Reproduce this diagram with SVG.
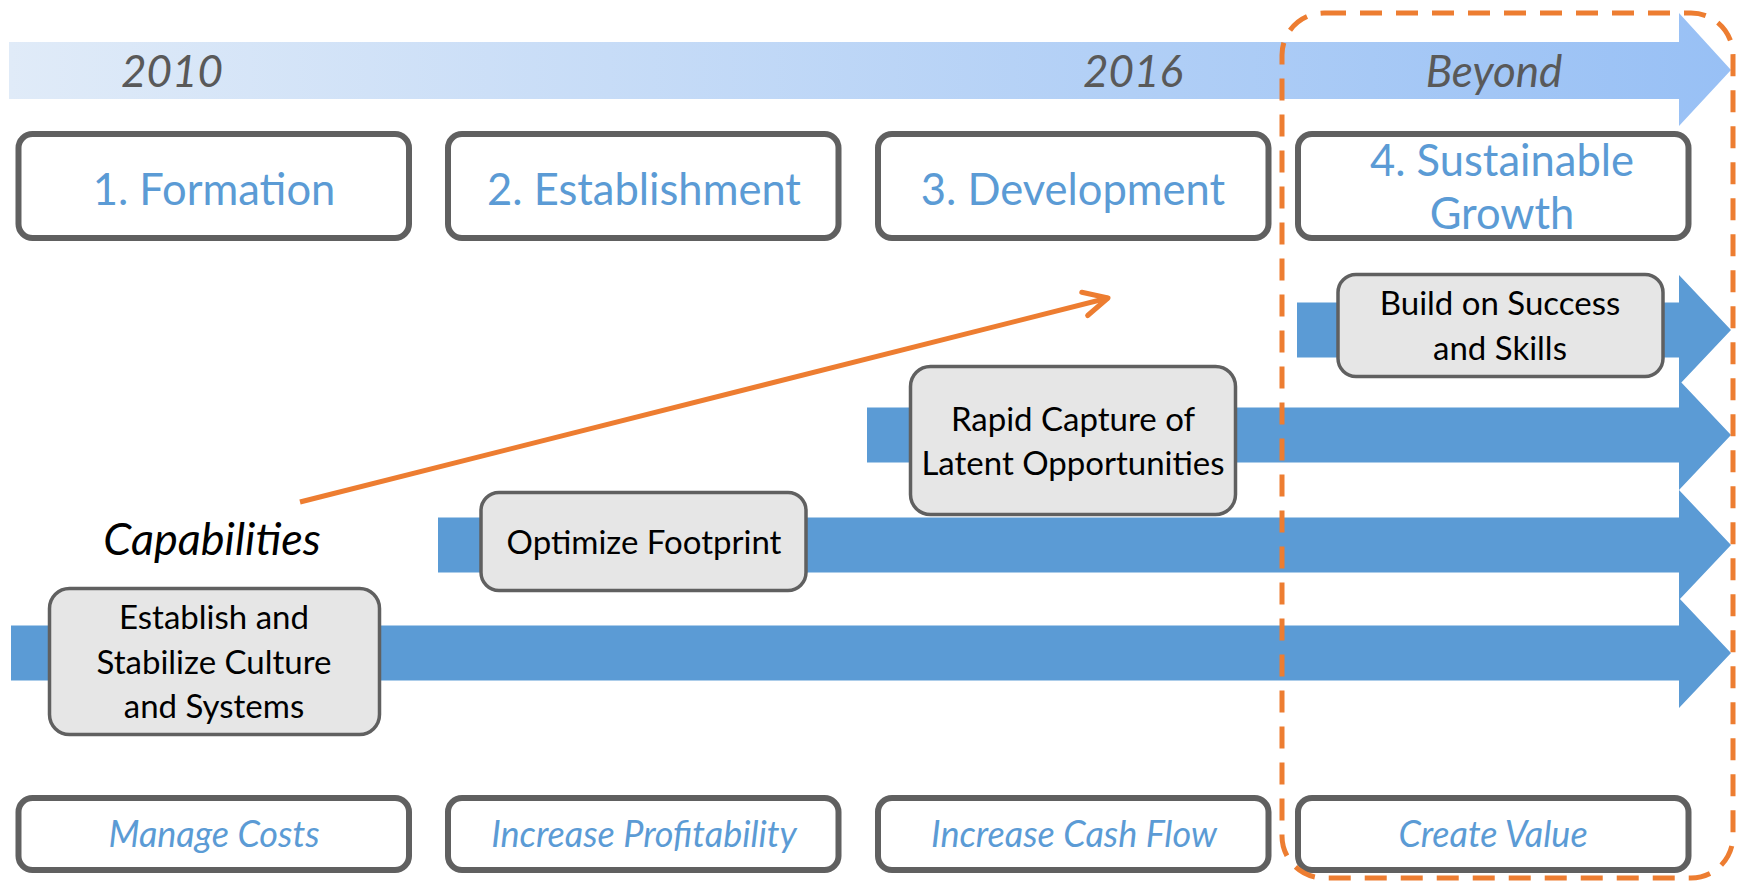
<svg xmlns="http://www.w3.org/2000/svg" width="1741" height="882" viewBox="0 0 1741 882">
<defs>
<linearGradient id="tl" x1="0" y1="0" x2="1" y2="0">
<stop offset="0" stop-color="#e0ebf8"/>
<stop offset="1" stop-color="#98c0f5"/>
</linearGradient>
<marker id="chev" markerUnits="userSpaceOnUse" markerWidth="40" markerHeight="40" viewBox="-30 -20 40 40" refX="0" refY="0" orient="auto">
<path d="M-24,-12 L0,0 L-24,12" fill="none" stroke="#ed7d31" stroke-width="5" stroke-linecap="round" stroke-linejoin="round"/>
</marker>
</defs>
<style>
.phase{fill:#ffffff;stroke:#606060;stroke-width:6}
.ptext{font-family:Lato,"Open Sans",sans-serif;font-size:43.5px;fill:#5b9bd5;text-anchor:middle}
.btext{font-family:Lato,"Open Sans",sans-serif;font-size:36px;font-style:italic;fill:#5b9bd5;text-anchor:middle}
.year{font-family:Lato,"Open Sans",sans-serif;font-size:44px;font-style:italic;fill:#595959;text-anchor:middle}
.cap{fill:#e6e6e6;stroke:#606060;stroke-width:3.5}
.ctext{font-family:Lato,"Open Sans",sans-serif;font-size:33px;fill:#000000;text-anchor:middle}
.barrow{fill:#5b9bd5}
</style>
<g id="timeline">
<polygon points="9,42 1679,42 1679,13 1731,70 1679,126 1679,99 9,99" fill="url(#tl)"/>
<text class="year" x="172" y="87">2010</text>
<text class="year" x="1133" y="87">2016</text>
<text class="year" x="1494" y="87">Beyond</text>
</g>
<g id="phase1"><rect class="phase" x="18.5" y="134" width="390.5" height="104" rx="14"/><text class="ptext" x="214" y="205">1. Formation</text></g>
<g id="phase2"><rect class="phase" x="448" y="134" width="390.5" height="104" rx="14"/><text class="ptext" x="644" y="205">2. Establishment</text></g>
<g id="phase3"><rect class="phase" x="878" y="134" width="390.5" height="104" rx="14"/><text class="ptext" x="1073" y="205">3. Development</text></g>
<g id="phase4"><rect class="phase" x="1298" y="134" width="390.5" height="104" rx="14"/><text class="ptext" x="1502" y="176">4. Sustainable</text><text class="ptext" x="1502" y="229">Growth</text></g>
<g id="arrow1"><polygon class="barrow" points="11,625.5 1679,625.5 1679,598 1731,653 1679,708 1679,680.5 11,680.5"/></g>
<g id="arrow2"><polygon class="barrow" points="438,517.5 1679,517.5 1679,490 1731,545 1679,600 1679,572.5 438,572.5"/></g>
<g id="arrow3"><polygon class="barrow" points="867,407.5 1679,407.5 1679,380 1731,435 1679,490 1679,462.5 867,462.5"/></g>
<g id="arrow4"><polygon class="barrow" points="1297,302.5 1679,302.5 1679,275 1731,330 1679,385 1679,357.5 1297,357.5"/></g>
<g id="cap1"><rect class="cap" x="49.5" y="588.5" width="330" height="146" rx="20"/><text class="ctext" x="214" y="629">Establish and</text><text class="ctext" x="214" y="674">Stabilize Culture</text><text class="ctext" x="214" y="718">and Systems</text></g>
<g id="cap2"><rect class="cap" x="481" y="492.5" width="325" height="98" rx="18"/><text class="ctext" x="644" y="554">Optimize Footprint</text></g>
<g id="cap3"><rect class="cap" x="910.5" y="366.5" width="325" height="148" rx="20"/><text class="ctext" x="1073" y="431">Rapid Capture of</text><text class="ctext" x="1073" y="475">Latent Opportunities</text></g>
<g id="cap4"><rect class="cap" x="1338" y="274.5" width="325" height="102" rx="18"/><text class="ctext" x="1500" y="315">Build on Success</text><text class="ctext" x="1500" y="360">and Skills</text></g>
<g id="capabilities"><text x="212" y="555" font-family="Lato,'Open Sans',sans-serif" font-size="45" font-style="italic" fill="#000000" text-anchor="middle">Capabilities</text></g>
<g id="goal1"><rect class="phase" x="18.5" y="798" width="390.5" height="72" rx="14"/><text class="btext" x="214" y="847">Manage Costs</text></g>
<g id="goal2"><rect class="phase" x="448" y="798" width="390.5" height="72" rx="14"/><text class="btext" x="644" y="847">Increase Profitability</text></g>
<g id="goal3"><rect class="phase" x="878" y="798" width="390.5" height="72" rx="14"/><text class="btext" x="1074" y="847">Increase Cash Flow</text></g>
<g id="goal4"><rect class="phase" x="1298" y="798" width="390.5" height="72" rx="14"/><text class="btext" x="1493" y="847">Create Value</text></g>
<g id="connectors">
<line x1="300" y1="502" x2="1108" y2="298" stroke="#ed7d31" stroke-width="5" marker-end="url(#chev)"/>
</g>
<g id="beyond-frame">
<rect x="1282" y="13" width="451" height="865" rx="42" fill="none" stroke="#ed7d31" stroke-width="5" stroke-dasharray="22 14"/>
</g>
</svg>
